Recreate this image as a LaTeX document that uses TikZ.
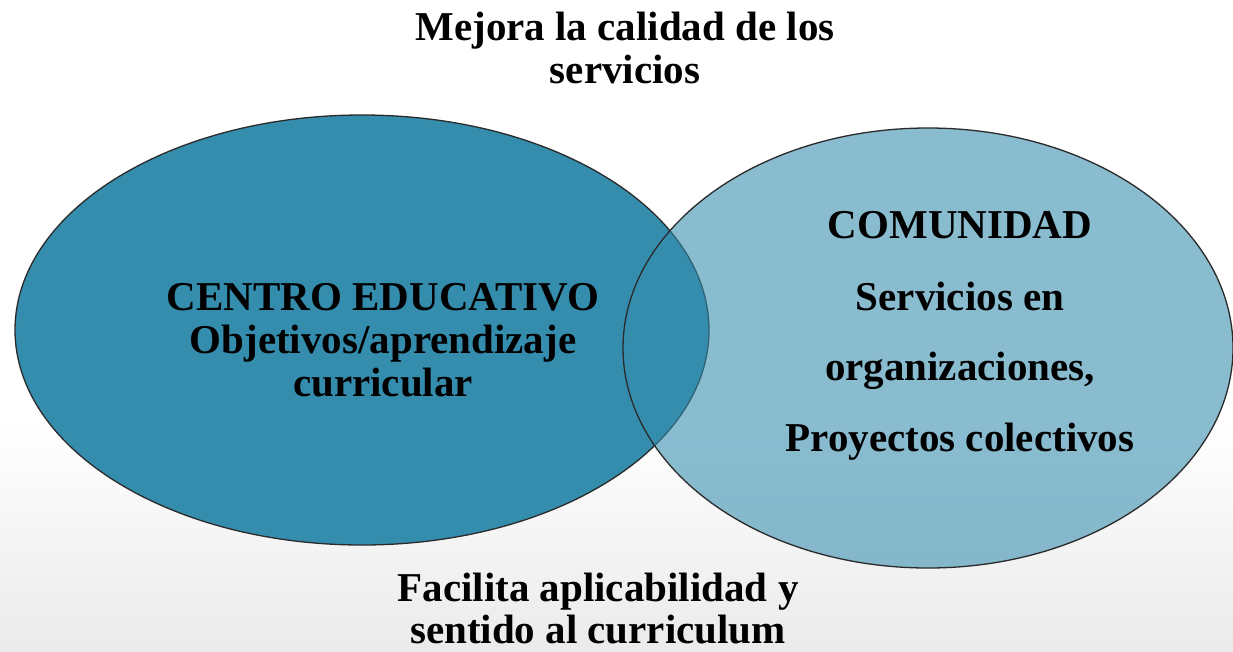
\documentclass[tikz,border=0pt]{standalone}
\usepackage{fontspec}
\setmainfont{Liberation Serif}
\usetikzlibrary{shapes.geometric}
\definecolor{teal1}{HTML}{358DAE}
\definecolor{outl}{HTML}{2A2A2A}
\tikzset{
  venn/.style={ellipse, draw=outl, line width=1.3pt, inner sep=0pt},
  lbl/.style={anchor=base, inner sep=0pt, font=\fontsize{41}{43}\selectfont\bfseries, text=black}
}
\begin{document}
\begin{tikzpicture}[x=1pt,y=-1pt]
\useasboundingbox (0,0) rectangle (1233,651);
\fill[white] (0,0) rectangle (1233,420);
\shade[top color=white, bottom color=black!8] (0,420) rectangle (1233,651);
\node[venn, fill=teal1, minimum width=694pt, minimum height=430pt] (centro) at (362,330) {};
\node[venn, fill=teal1, fill opacity=0.58, minimum width=610pt, minimum height=440pt] (comunidad) at (928,348) {};
\node[lbl] (t1) at (625,40) {Mejora la calidad de los};
\node[lbl] (t2) at (625,83) {servicios};
\node[lbl] (c1) at (383,310) {CENTRO EDUCATIVO};
\node[lbl] (c2) at (383,353) {Objetivos/aprendizaje};
\node[lbl] (c3) at (383,396) {curricular};
\node[lbl] (r1) at (960,238) {COMUNIDAD};
\node[lbl] (r2) at (960,310) {Servicios en};
\node[lbl] (r3) at (960,380) {organizaciones,};
\node[lbl] (r4) at (960,451) {Proyectos colectivos};
\node[lbl] (b1) at (598,601) {Facilita aplicabilidad y};
\node[lbl] (b2) at (598,643) {sentido al curriculum};
\end{tikzpicture}
\end{document}
